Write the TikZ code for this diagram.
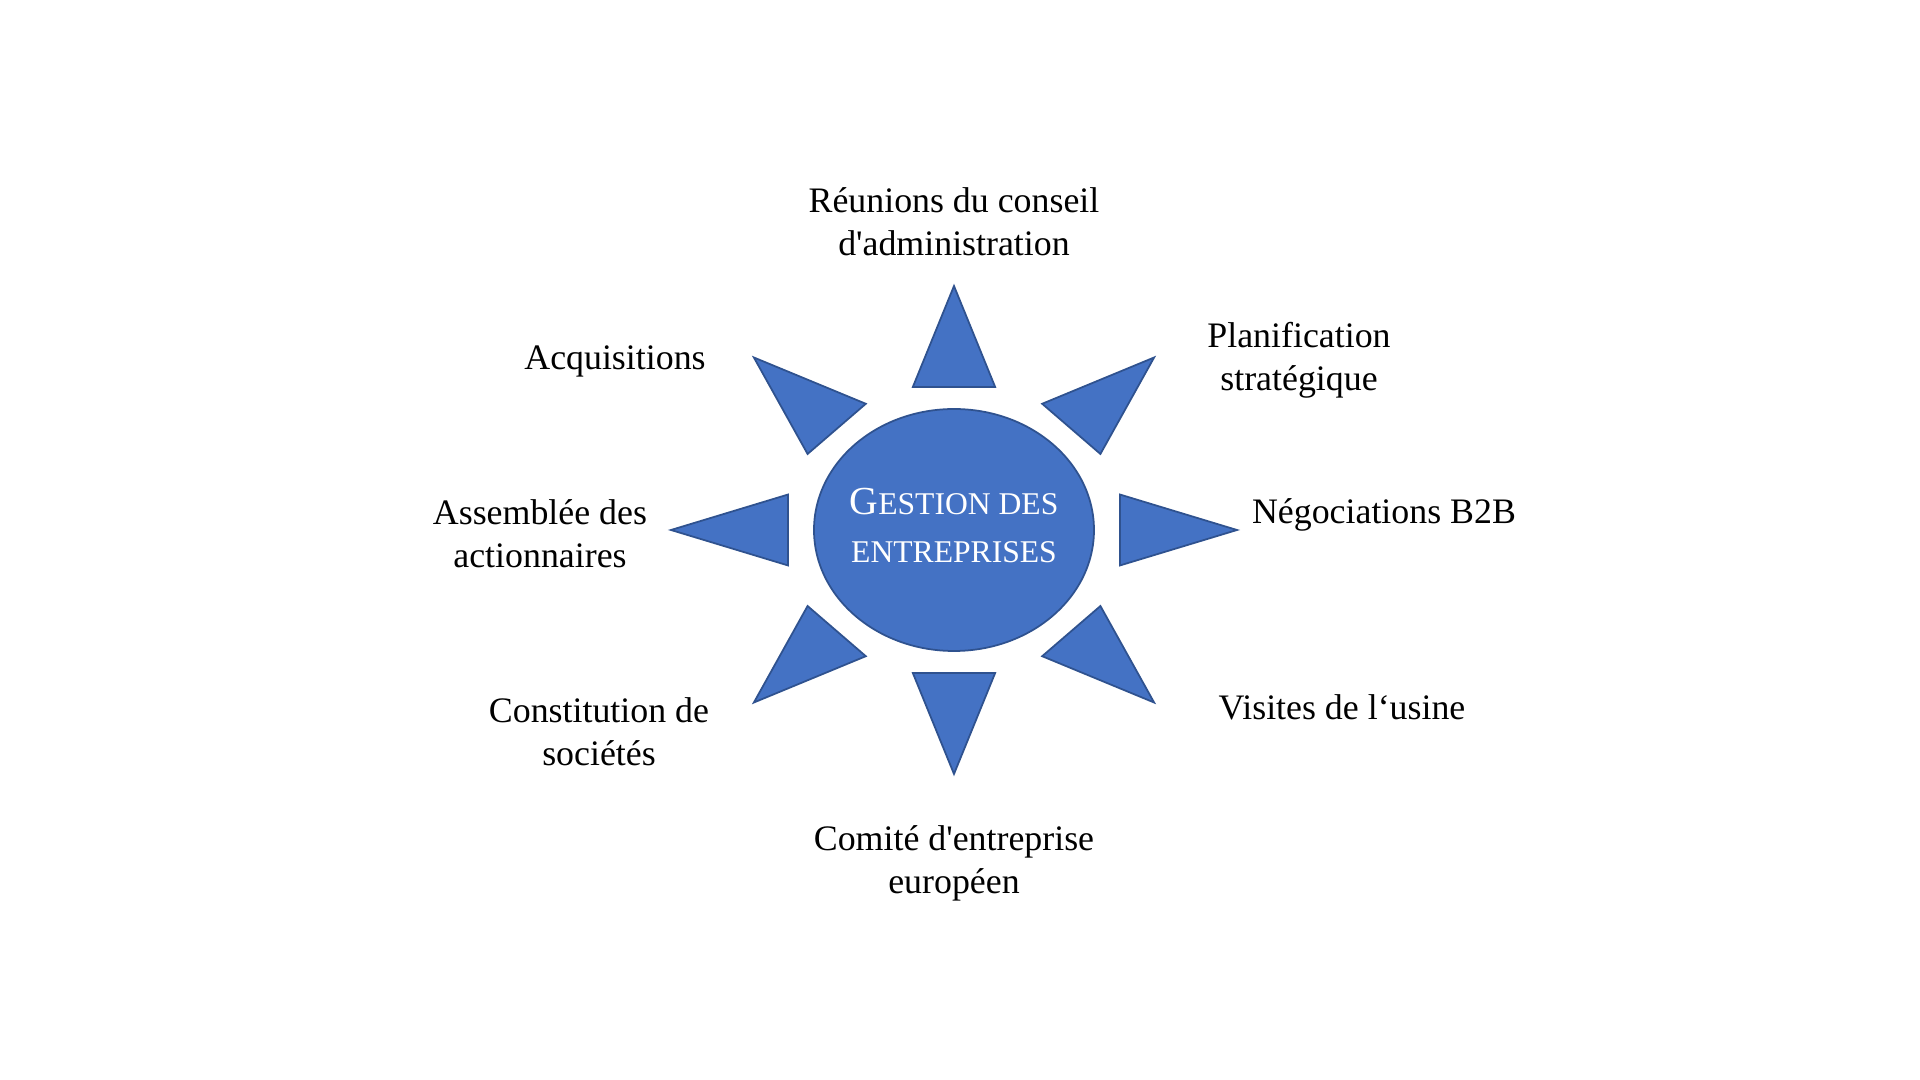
\documentclass[tikz,border=0pt]{standalone}
\usepackage{fontspec}
\setmainfont{Liberation Serif}
\usepackage{tikz}
\usetikzlibrary{shapes.geometric,positioning}

\definecolor{sunblue}{RGB}{68,114,196}
\definecolor{sunline}{RGB}{47,82,143}
\newcommand{\smallcap}[1]{{\fontsize{9}{13.9}\selectfont #1}}

\begin{document}
\begin{tikzpicture}[
    ray/.style={fill=sunblue,draw=sunline,line width=0.5pt,line join=miter},
    topic/.style={align=center,font=\fontsize{10.2}{12.2}\selectfont}
]
    \useasboundingbox (-9.54,-5.50) rectangle (9.66,5.30);

    % Centre
    \node[ellipse,fill=sunblue,draw=sunline,line width=0.5pt,minimum width=2.80cm,minimum height=2.42cm,inner sep=0pt] (core) at (0,0) {};
    \node[text=white,align=center,font=\fontsize{11.3}{13.9}\selectfont] (title) at (0,0.045)
        {G\smallcap{ESTION DES}\\ \smallcap{ENTREPRISES}};

    % Rays
    \foreach \a in {0,45,...,315}
        \draw[ray,xscale=1.16,rotate=\a] (2.44,0) -- (1.43,0.355) -- (1.43,-0.355) -- cycle;

    % Topics
    \node[topic] (board) at (0,3.08) {Réunions du conseil\\d\textquotesingle administration};
    \node[topic] (plan) at (3.45,1.695) {Planification\\stratégique};
    \node[topic] (nego) at (4.30,0.155) {Négociations B2B};
    \node[topic] (visit) at (3.88,-1.77) {Visites de l‘usine};
    \node[topic] (council) at (0,-3.335) {Comité d\textquotesingle entreprise\\européen};
    \node[topic] (found) at (-3.55,-2.02) {Constitution de\\sociétés};
    \node[topic] (meeting) at (-4.14,-0.04) {Assemblée des\\actionnaires};
    \node[topic] (acq) at (-3.39,1.685) {Acquisitions};
\end{tikzpicture}
\end{document}
